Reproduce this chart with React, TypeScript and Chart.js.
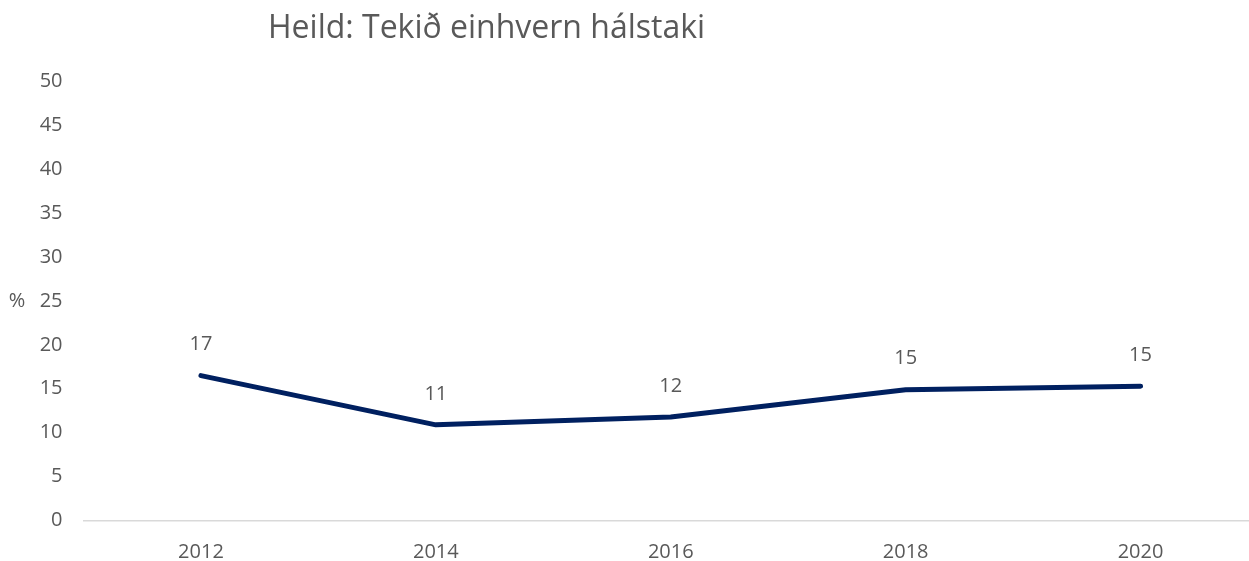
import React, { useEffect, useRef } from "react";
import { Chart, registerables } from "chart.js";

Chart.register(...registerables);

const TITLE = "Heild: Tekið einhvern hálstaki";
const Y_UNIT = "%";
const YEARS = ["2012", "2014", "2016", "2018", "2020"];
const VALUES = [16.5, 10.9, 11.8, 14.9, 15.3];
const Y_MIN = 0;
const Y_MAX = 50;
const Y_STEP = 5;

const FONT = "'Open Sans', sans-serif";
const TEXT = "#595959";
const LINE = "#002060";

export default function App() {
  const ref = useRef<HTMLCanvasElement | null>(null);

  useEffect(() => {
    if (!ref.current) return;
    const overlay = {
      id: "overlay",
      afterDatasetsDraw(chart: any) {
        const ctx = chart.ctx;
        ctx.save();
        // data labels
        const meta = chart.getDatasetMeta(0);
        ctx.font = `20px ${FONT}`;
        ctx.fillStyle = TEXT;
        ctx.textAlign = "center";
        ctx.textBaseline = "middle";
        meta.data.forEach((pt: any, i: number) => {
          ctx.fillText(String(Math.round(VALUES[i])), pt.x, pt.y - 31);
        });
        // unit label
        const ys = chart.scales.y;
        ctx.fillText(Y_UNIT, 17, ys.getPixelForValue(25));
        // title
        ctx.font = `32px ${FONT}`;
        ctx.textAlign = "left";
        ctx.fillText(TITLE, 268, 29);
        ctx.restore();
      },
    };
    const chart = new Chart(ref.current, {
      type: "line",
      data: {
        labels: YEARS,
        datasets: [
          {
            data: VALUES,
            borderColor: LINE,
            backgroundColor: LINE,
            borderWidth: 5,
            borderCapStyle: "round",
            borderJoinStyle: "round",
            pointRadius: 0,
            tension: 0,
          },
        ],
      },
      options: {
        animation: false,
        responsive: false,
        maintainAspectRatio: false,
        layout: { padding: { top: 81, right: 2, left: 0, bottom: 0 } },
        plugins: { legend: { display: false }, tooltip: { enabled: false }, title: { display: false } },
        scales: {
          x: {
            type: "category",
            offset: true,
            grid: { display: false, drawTicks: false },
            border: { display: true, color: "#d9d9d9", width: 1.5 },
            ticks: { color: TEXT, font: { family: FONT, size: 20 }, padding: 20, maxRotation: 0 },
            afterFit(scale: any) {
              scale.height = 40.3;
            },
          },
          y: {
            min: Y_MIN,
            max: Y_MAX,
            grid: { display: false, drawTicks: false },
            border: { display: false },
            ticks: { stepSize: Y_STEP, color: TEXT, font: { family: FONT, size: 20 }, padding: 21 },
            afterFit(scale: any) {
              scale.width = 83.5;
            },
          },
        },
      },
      plugins: [overlay],
    });
    return () => chart.destroy();
  }, []);

  return (
    <div style={{ position: "fixed", left: 0, top: 0, width: 1260, height: 561, background: "#fff" }}>
      <canvas ref={ref} width={1260} height={561} style={{ display: "block", width: 1260, height: 561 }} />
    </div>
  );
}
